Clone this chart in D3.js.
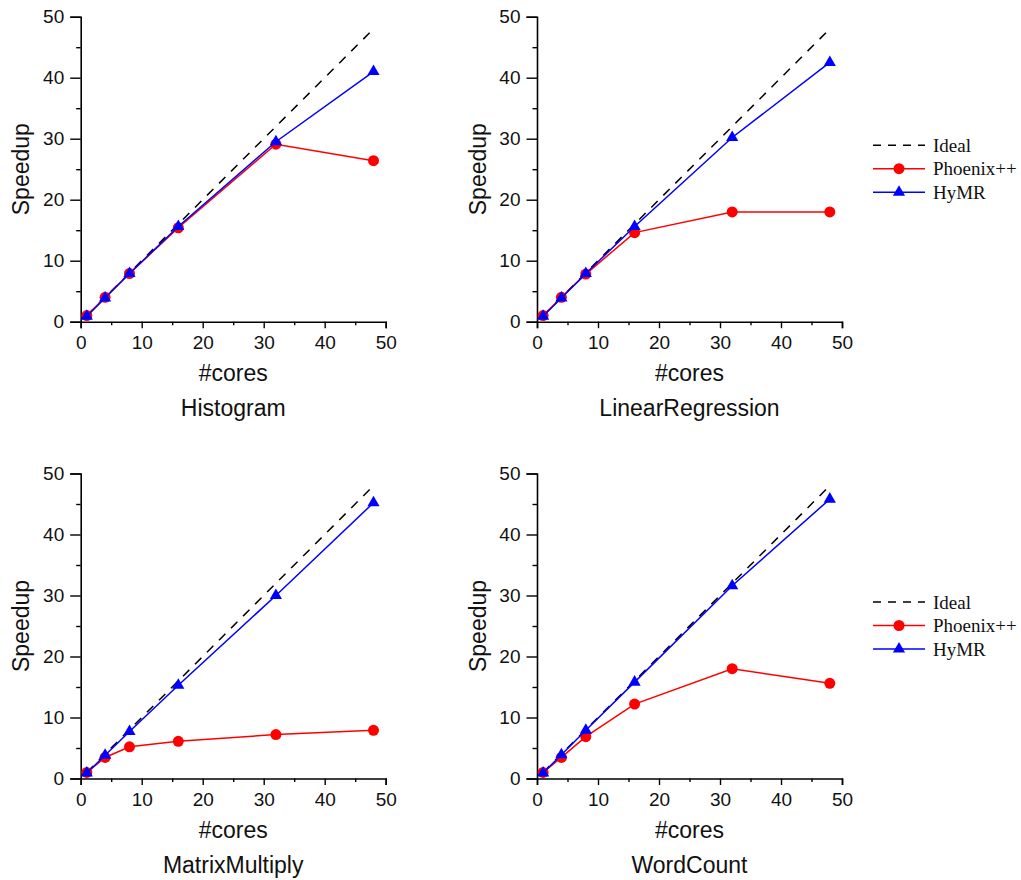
<!DOCTYPE html>
<html>
<head>
<meta charset="utf-8">
<script src="https://cdn.jsdelivr.net/npm/d3@7"></script>
<style>
  body { margin: 0; background: #fff; }
  svg { display: block; }
</style>
</head>
<body>
<svg id="chart" width="1021" height="880"></svg>
<script>
// Data
var cores = [1, 4, 8, 16, 32, 48];
var idealSpeedup = [1, 4, 8, 16, 32, 48];
var benchmarks = ["Histogram", "LinearRegression", "MatrixMultiply", "WordCount"];
var phoenixSpeedup = [
  [1, 4, 7.9, 15.4, 29.1, 26.4],
  [1, 4, 7.8, 14.6, 18.0, 18.0],
  [1, 3.45, 5.2, 6.1, 7.2, 7.9],
  [1, 3.45, 6.85, 12.2, 18.0, 15.6]
];
var hymrSpeedup = [
  [0.9, 3.9, 7.9, 15.6, 29.5, 41.0],
  [0.9, 3.9, 7.9, 15.6, 30.2, 42.5],
  [0.9, 3.8, 7.7, 15.3, 30.0, 45.2],
  [0.9, 3.9, 7.9, 15.8, 31.6, 45.8]
];
var seriesNames = ["Ideal", "Phoenix++", "HyMR"];
var seriesColors = ["#000", "#ff0000", "#0000ff"];
var xTicks = [0, 10, 20, 30, 40, 50];
var yTicks = [0, 10, 20, 30, 40, 50];

// Layout
var panels = [
  { x: 80.7, y: 16.7, legend: true && false },
  { x: 537, y: 16.7, legend: true },
  { x: 80.7, y: 473.5, legend: false },
  { x: 537, y: 473.5, legend: true }
];
var size = 305;
var sansFont = "'Liberation Sans', Arial, sans-serif";

var svg = d3.select("#chart");

var x = d3.scaleLinear().domain([0, 50]).range([0, size]);
var y = d3.scaleLinear().domain([0, 50]).range([size, 0]);

var line = d3.line()
  .x(function(d) { return x(d[0]); })
  .y(function(d) { return y(d[1]); });

var triangle = d3.symbol().type(d3.symbolTriangle).size(64);

function drawPanel(p, i) {
  var g = svg.append("g")
    .attr("transform", "translate(" + p.x + "," + p.y + ")");

  // minor ticks
  var xAxisMinor = d3.axisBottom(x).tickValues([5, 15, 25, 35, 45]).tickSize(3.5).tickFormat("");
  var yAxisMinor = d3.axisLeft(y).tickValues([5, 15, 25, 35, 45]).tickSize(4.5).tickFormat("");
  g.append("g").attr("class", "minor").attr("transform", "translate(0," + size + ")").call(xAxisMinor);
  g.append("g").attr("class", "minor").call(yAxisMinor);

  var xAxis = d3.axisBottom(x).tickValues(xTicks).tickSize(6.5).tickPadding(4);
  var yAxis = d3.axisLeft(y).tickValues(yTicks).tickSize(10.5).tickPadding(6);

  var xg = g.append("g").attr("transform", "translate(0," + size + ")").call(xAxis);
  var yg = g.append("g").call(yAxis);

  [xg, yg].forEach(function(a) {
    a.select(".domain").attr("stroke", "#000").attr("stroke-width", 1.6);
    a.selectAll(".tick line").attr("stroke", "#000").attr("stroke-width", 1.4);
    a.selectAll("text")
      .attr("fill", "#111")
      .style("font-family", sansFont)
      .style("font-size", "19px");
  });
  xg.selectAll("text").attr("dy", "0.9em");
  g.selectAll(".minor .domain").remove();
  g.selectAll(".minor .tick line").attr("stroke", "#000").attr("stroke-width", 1.4);

  // axis titles
  g.append("text")
    .attr("x", size / 2)
    .attr("y", size + 59.5)
    .attr("text-anchor", "middle")
    .style("font-family", sansFont)
    .style("font-size", "23px")
    .attr("fill", "#111")
    .text("#cores");

  g.append("text")
    .attr("transform", "translate(" + (-59.5) + "," + (size / 2) + ") rotate(-90)")
    .attr("text-anchor", "middle")
    .attr("dy", "0.35em")
    .style("font-family", sansFont)
    .style("font-size", "23px")
    .attr("fill", "#111")
    .text("Speedup");

  g.append("text")
    .attr("x", size / 2)
    .attr("y", size + 94.5)
    .attr("text-anchor", "middle")
    .style("font-family", sansFont)
    .style("font-size", "23px")
    .attr("fill", "#111")
    .text(benchmarks[i]);

  // series
  var ideal = cores.map(function(c, k) { return [c, idealSpeedup[k]]; });
  var phoenix = cores.map(function(c, k) { return [c, phoenixSpeedup[i][k]]; });
  var hymr = cores.map(function(c, k) { return [c, hymrSpeedup[i][k]]; });

  g.append("path")
    .datum(ideal)
    .attr("d", line)
    .attr("fill", "none")
    .attr("stroke", seriesColors[0])
    .attr("stroke-width", 1.5)
    .attr("stroke-dasharray", "9,8");

  g.append("path")
    .datum(phoenix)
    .attr("d", line)
    .attr("fill", "none")
    .attr("stroke", seriesColors[1])
    .attr("stroke-width", 1.5);

  g.selectAll(".pt-phoenix")
    .data(phoenix)
    .enter().append("circle")
    .attr("class", "pt-phoenix")
    .attr("cx", function(d) { return x(d[0]); })
    .attr("cy", function(d) { return y(d[1]); })
    .attr("r", 5.5)
    .attr("fill", seriesColors[1]);

  g.append("path")
    .datum(hymr)
    .attr("d", line)
    .attr("fill", "none")
    .attr("stroke", seriesColors[2])
    .attr("stroke-width", 1.5);

  g.selectAll(".pt-hymr")
    .data(hymr)
    .enter().append("path")
    .attr("class", "pt-hymr")
    .attr("d", triangle)
    .attr("transform", function(d) { return "translate(" + x(d[0]) + "," + y(d[1]) + ")"; })
    .attr("fill", seriesColors[2]);

  if (p.legend) {
    var lg = svg.append("g")
      .attr("transform", "translate(873," + (p.y + 128.5) + ")");
    seriesNames.forEach(function(name, k) {
      var row = lg.append("g").attr("transform", "translate(0," + (k * 23.5) + ")");
      row.append("line")
        .attr("x1", 0).attr("x2", 52)
        .attr("stroke", seriesColors[k])
        .attr("stroke-width", 1.5)
        .attr("stroke-dasharray", k === 0 ? "8,7" : null);
      if (k === 1) {
        row.append("circle").attr("cx", 26).attr("r", 5.5).attr("fill", seriesColors[k]);
      } else if (k === 2) {
        row.append("path").attr("d", triangle).attr("transform", "translate(26,0)").attr("fill", seriesColors[k]);
      }
      row.append("text")
        .attr("x", 60)
        .attr("dy", "0.35em")
        .style("font-family", "'Liberation Serif', 'Times New Roman', serif")
        .style("font-size", "19px")
        .attr("fill", "#111")
        .text(name);
    });
  }
}

panels.forEach(drawPanel);
</script>
</body>
</html>
